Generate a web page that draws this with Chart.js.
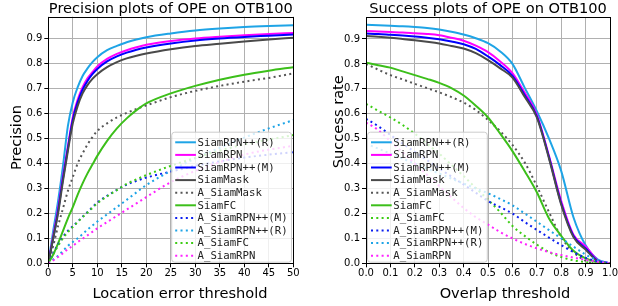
<!DOCTYPE html>
<html><head><meta charset="utf-8">
<script src="https://cdn.jsdelivr.net/npm/chart.js@4"></script>
<style>
body{margin:0;background:#fff;width:618px;height:306px;overflow:hidden;position:relative}
canvas{position:absolute;top:0}
</style>
</head><body>
<canvas id="c1" width="309" height="306" style="left:0"></canvas>
<canvas id="c2" width="308" height="306" style="left:310px"></canvas>
<script>
// ---------- DATA ----------
const NAMES = ['SiamRPN++(R)','SiamRPN','SiamRPN++(M)','SiamMask','A_SiamMask','SiamFC','A_SiamRPN++(M)','A_SiamRPN++(R)','A_SiamFC','A_SiamRPN'];

// Precision plot (location error threshold)
const PREC_X = [0,1,2,3,4,5,6,7,8,9,10,12,14,16,18,20,25,30,35,40,45,50];
const PREC_SiamRPNppR = [0,0.13,0.25,0.39,0.55,0.645,0.705,0.75,0.78,0.805,0.825,0.853,0.87,0.885,0.896,0.905,0.92,0.932,0.94,0.946,0.95,0.953];
const PREC_SiamRPN    = [0,0.11,0.22,0.35,0.47,0.585,0.655,0.705,0.74,0.765,0.788,0.818,0.838,0.853,0.865,0.875,0.89,0.9,0.907,0.913,0.918,0.922];
const PREC_SiamRPNppM = [0,0.1,0.21,0.34,0.46,0.575,0.645,0.695,0.73,0.757,0.778,0.808,0.828,0.843,0.855,0.864,0.88,0.892,0.9,0.906,0.911,0.916];
const PREC_SiamMask   = [0,0.1,0.2,0.33,0.45,0.56,0.63,0.68,0.713,0.738,0.757,0.785,0.805,0.82,0.831,0.84,0.857,0.87,0.879,0.888,0.896,0.903];
const PREC_A_SiamMask = [0,0.07,0.15,0.22,0.29,0.345,0.4,0.44,0.475,0.505,0.53,0.56,0.584,0.602,0.618,0.632,0.665,0.69,0.71,0.727,0.742,0.76];
const PREC_SiamFC     = [0,0.035,0.08,0.13,0.18,0.225,0.275,0.32,0.36,0.395,0.43,0.49,0.54,0.58,0.613,0.64,0.68,0.71,0.735,0.755,0.771,0.785];
const PREC_A_SiamRPNppM = [0,0.04,0.075,0.105,0.13,0.148,0.167,0.186,0.205,0.224,0.243,0.27,0.294,0.315,0.33,0.343,0.367,0.39,0.408,0.423,0.435,0.445];
const PREC_A_SiamRPNppR = [0,0.015,0.03,0.05,0.07,0.085,0.1,0.117,0.135,0.151,0.167,0.196,0.225,0.254,0.284,0.313,0.37,0.42,0.462,0.503,0.54,0.573];
const PREC_A_SiamFC   = [0,0.035,0.07,0.1,0.125,0.145,0.165,0.185,0.203,0.222,0.24,0.268,0.293,0.318,0.336,0.353,0.39,0.422,0.451,0.476,0.495,0.513];
const PREC_A_SiamRPN  = [0,0.012,0.025,0.04,0.057,0.07,0.085,0.098,0.112,0.126,0.14,0.165,0.19,0.215,0.24,0.265,0.325,0.37,0.405,0.435,0.455,0.47];

// Success plot (overlap threshold)
const SUCC_X = [0,0.05,0.1,0.15,0.2,0.25,0.3,0.35,0.4,0.45,0.5,0.55,0.6,0.65,0.7,0.75,0.8,0.85,0.9,0.95,1.0];
const SUCC_SiamRPNppR = [0.957,0.955,0.953,0.951,0.948,0.944,0.938,0.929,0.918,0.903,0.883,0.85,0.8,0.705,0.61,0.5,0.37,0.185,0.072,0.015,0];
const SUCC_SiamRPN    = [0.932,0.93,0.928,0.926,0.923,0.92,0.915,0.905,0.893,0.873,0.847,0.81,0.763,0.685,0.597,0.43,0.25,0.115,0.068,0.012,0];
const SUCC_SiamRPNppM = [0.922,0.92,0.917,0.914,0.91,0.905,0.899,0.89,0.879,0.86,0.83,0.795,0.752,0.675,0.59,0.425,0.24,0.11,0.06,0.01,0];
const SUCC_SiamMask   = [0.912,0.909,0.905,0.9,0.895,0.889,0.882,0.872,0.862,0.843,0.815,0.782,0.745,0.668,0.585,0.42,0.235,0.105,0.055,0.008,0];
const SUCC_A_SiamMask = [0.8,0.777,0.755,0.738,0.72,0.703,0.686,0.667,0.645,0.615,0.575,0.53,0.475,0.405,0.31,0.205,0.105,0.045,0.01,0,0];
const SUCC_SiamFC     = [0.805,0.795,0.785,0.77,0.755,0.74,0.724,0.703,0.673,0.632,0.585,0.52,0.45,0.37,0.285,0.18,0.11,0.05,0.02,0.005,0];
const SUCC_A_SiamFC   = [0.64,0.612,0.585,0.555,0.52,0.48,0.44,0.395,0.35,0.302,0.255,0.205,0.15,0.11,0.075,0.045,0.025,0.012,0.005,0.001,0];
const SUCC_A_SiamRPNppM = [0.58,0.55,0.515,0.48,0.447,0.414,0.381,0.348,0.316,0.283,0.25,0.225,0.2,0.166,0.134,0.103,0.073,0.045,0.022,0.008,0];
const SUCC_A_SiamRPNppR = [0.48,0.46,0.44,0.42,0.4,0.38,0.36,0.34,0.32,0.3,0.281,0.258,0.233,0.2,0.167,0.133,0.1,0.067,0.035,0.012,0];
const SUCC_A_SiamRPN  = [0.565,0.535,0.49,0.445,0.4,0.355,0.31,0.265,0.222,0.185,0.155,0.125,0.1,0.078,0.06,0.045,0.033,0.023,0.014,0.006,0];

const PREC_TICKS_X = [0,5,10,15,20,25,30,35,40,45,50];
const Y_TICKS = [0,0.1,0.2,0.3,0.4,0.5,0.6,0.7,0.8,0.9];

const PREC_SERIES = {
  'SiamRPN++(R)':PREC_SiamRPNppR,'SiamRPN':PREC_SiamRPN,'SiamRPN++(M)':PREC_SiamRPNppM,'SiamMask':PREC_SiamMask,
  'A_SiamMask':PREC_A_SiamMask,'SiamFC':PREC_SiamFC,'A_SiamRPN++(M)':PREC_A_SiamRPNppM,'A_SiamRPN++(R)':PREC_A_SiamRPNppR,
  'A_SiamFC':PREC_A_SiamFC,'A_SiamRPN':PREC_A_SiamRPN};
const SUCC_SERIES = {
  'SiamRPN++(R)':SUCC_SiamRPNppR,'SiamRPN':SUCC_SiamRPN,'SiamRPN++(M)':SUCC_SiamRPNppM,'SiamMask':SUCC_SiamMask,
  'A_SiamMask':SUCC_A_SiamMask,'SiamFC':SUCC_SiamFC,'A_SiamFC':SUCC_A_SiamFC,'A_SiamRPN++(M)':SUCC_A_SiamRPNppM,
  'A_SiamRPN++(R)':SUCC_A_SiamRPNppR,'A_SiamRPN':SUCC_A_SiamRPN};
const PREC_LEGEND = ['SiamRPN++(R)','SiamRPN','SiamRPN++(M)','SiamMask','A_SiamMask','SiamFC','A_SiamRPN++(M)','A_SiamRPN++(R)','A_SiamFC','A_SiamRPN'];
const SUCC_LEGEND = ['SiamRPN++(R)','SiamRPN','SiamRPN++(M)','SiamMask','A_SiamMask','SiamFC','A_SiamFC','A_SiamRPN++(M)','A_SiamRPN++(R)','A_SiamRPN'];

// ---------- STYLE ----------
const DOT = [2,3.3];
const STYLE = {
  'SiamRPN++(R)':{c:'#1ea4e6',d:[]},
  'SiamRPN':{c:'#ff00ff',d:[]},
  'SiamRPN++(M)':{c:'#0000ff',d:[]},
  'SiamMask':{c:'#4a4a4a',d:[]},
  'A_SiamMask':{c:'#555555',d:DOT},
  'SiamFC':{c:'#3cbf1a',d:[]},
  'A_SiamRPN++(M)':{c:'#0a1ef0',d:DOT},
  'A_SiamRPN++(R)':{c:'#1ea4e6',d:DOT},
  'A_SiamFC':{c:'#3ccc14',d:DOT},
  'A_SiamRPN':{c:'#ff22ff',d:DOT}
};
const FONT = '"DejaVu Sans", sans-serif';

const deco = {
  id:'deco',
  afterDatasetsDraw(chart){
    const ctx = chart.ctx, ca = chart.chartArea;
    ctx.save();
    ctx.strokeStyle = '#000'; ctx.lineWidth = 1;
    ctx.strokeRect(Math.round(ca.left)+0.5, Math.round(ca.top)+0.5, Math.round(ca.right)-Math.round(ca.left), Math.round(ca.bottom)-Math.round(ca.top));
    ctx.restore();
  },
  afterDraw(chart, args, o){
    const ctx = chart.ctx, ca = chart.chartArea;
    ctx.save();
    ctx.fillStyle = '#000';
    ctx.font = '14.6px ' + FONT;
    ctx.textAlign = 'center'; ctx.textBaseline = 'alphabetic';
    ctx.fillText(o.title, (ca.left+ca.right)/2, o.titleY);
    ctx.fillText(o.xTitle, o.xTitleX, o.xTitleY);
    ctx.save();
    ctx.translate(o.yTitleX, o.yTitleY);
    ctx.rotate(-Math.PI/2);
    ctx.fillText(o.yTitle, 0, 0);
    ctx.restore();
    // legend
    const order = o.legend;
    ctx.font = '10.7px "DejaVu Sans Mono", monospace';
    const rowH = 12.6;
    const tw = Math.max(...order.map(t => ctx.measureText(t).width));
    const w = 4 + 20.7 + 1.6 + tw + 3.4;
    const h = 10.6 + (order.length-1)*rowH + 6;
    const x0 = o.side === 'right' ? ca.right - 2.3 - w : ca.left + 1;
    const y0 = ca.bottom - 1.6 - h;
    ctx.beginPath();
    ctx.roundRect(x0+0.5, y0+0.5, w, h, 3);
    ctx.fillStyle = 'rgba(255,255,255,0.8)';
    ctx.fill();
    ctx.strokeStyle = '#cccccc'; ctx.lineWidth = 1;
    ctx.stroke();
    ctx.textAlign = 'left'; ctx.textBaseline = 'middle';
    order.forEach((name, i) => {
      const cy = y0 + 10.6 + i*rowH;
      const st = STYLE[name];
      ctx.beginPath();
      ctx.setLineDash(st.d);
      ctx.lineCap = 'butt';
      ctx.strokeStyle = st.c; ctx.lineWidth = 2;
      ctx.moveTo(x0+4, cy); ctx.lineTo(x0+24.7, cy);
      ctx.stroke();
      ctx.setLineDash([]);
      ctx.fillStyle = '#222';
      ctx.fillText(name, x0+26.3, cy+0.5);
    });
    ctx.restore();
  }
};

function makeChart(id, xs, series, cfg){
  const names = Object.keys(series);
  const datasets = names.map((n, i) => ({
    label: n,
    data: xs.map((x, k) => ({x: x, y: series[n][k]})),
    borderColor: STYLE[n].c,
    borderDash: STYLE[n].d,
    borderWidth: 2,
    borderCapStyle: 'butt',
    pointRadius: 0,
    fill: false,
    cubicInterpolationMode: 'monotone',
    order: -i
  }));
  const tickFont = {family: FONT, size: 10};
  return new Chart(document.getElementById(id), {
    type: 'line',
    data: {datasets},
    plugins: [deco],
    options: {
      responsive: false, animation: false, devicePixelRatio: 1,
      layout: {autoPadding: false, padding: cfg.padding},
      plugins: {legend:{display:false}, tooltip:{enabled:false}, title:{display:false}, deco: cfg.deco},
      scales: {
        x: {
          type: 'linear', min: cfg.xMin, max: cfg.xMax,
          afterBuildTicks: s => { s.ticks = cfg.xTicks.map(v => ({value: v})); },
          afterFit: s => { s.height = cfg.xH; },
          ticks: {font: tickFont, color: '#000', padding: 0, maxRotation: 0, autoSkip: false, callback: cfg.xFmt},
          grid: {color: '#b0b0b0', lineWidth: 1, tickColor: '#000', tickLength: 4, drawTicks: true},
          border: {display: false}
        },
        y: {
          type: 'linear', min: 0, max: 0.987,
          afterBuildTicks: s => { s.ticks = Y_TICKS.map(v => ({value: v})); },
          afterFit: s => { s.width = cfg.yW; },
          ticks: {font: tickFont, color: '#000', padding: 2, callback: v => v.toFixed(1)},
          grid: {color: '#b0b0b0', lineWidth: 1, tickColor: '#000', tickLength: 4, drawTicks: true},
          border: {display: false}
        }
      }
    }
  });
}

makeChart('c1', PREC_X, PREC_SERIES, {
  padding: {left: 0, right: 15.7, top: 16.7, bottom: 0},
  xMin: 0, xMax: 50, xTicks: PREC_TICKS_X, xH: 42.7, yW: 48.3,
  xFmt: v => String(Math.round(v)),
  deco: {title: 'Precision plots of OPE on OTB100', titleY: 13,
         xTitle: 'Location error threshold', xTitleX: 180, xTitleY: 297.5,
         yTitle: 'Precision', yTitleX: 20.7, yTitleY: 137.5,
         legend: PREC_LEGEND, side: 'right'}
});
makeChart('c2', SUCC_X, SUCC_SERIES, {
  padding: {left: 0, right: 6.3, top: 17.3, bottom: 0},
  xMin: 0, xMax: 1, xTicks: [0,0.1,0.2,0.3,0.4,0.5,0.6,0.7,0.8,0.9,1.0], xH: 42.7, yW: 56,
  xFmt: v => v.toFixed(1),
  deco: {title: 'Success plots of OPE on OTB100', titleY: 13,
         xTitle: 'Overlap threshold', xTitleX: 195, xTitleY: 297.7,
         yTitle: 'Success rate', yTitleX: 33.3, yTitleY: 121.7,
         legend: SUCC_LEGEND, side: 'left'}
});
</script>
</body></html>
